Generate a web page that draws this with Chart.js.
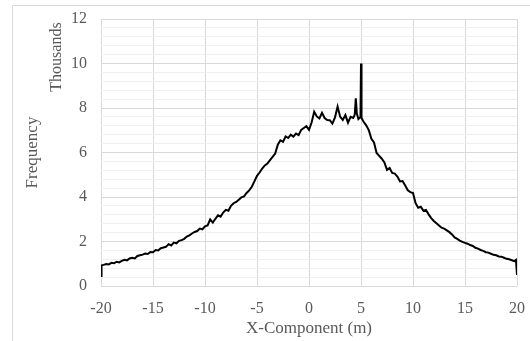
<!DOCTYPE html>
<html>
<head>
<meta charset="utf-8">
<script src="https://cdn.jsdelivr.net/npm/chart.js@4/dist/chart.umd.min.js"></script>
<style>
  html, body { margin: 0; padding: 0; background: #fff; }
  #wrap { position: relative; width: 530px; height: 341px; }
</style>
</head>
<body>
<div id="wrap"><canvas id="grafico" width="530" height="341"></canvas></div>
<script>
// distance along X (m)
const xComponent = [
  -20, -19.95, -19.75, -19.5, -19.25, -19, -18.75, -18.5, -18.25, -18,
  -17.75, -17.5, -17.25, -17, -16.75, -16.5, -16.25, -16, -15.75, -15.5,
  -15.25, -15, -14.75, -14.5, -14.25, -14, -13.75, -13.5, -13.25, -13,
  -12.75, -12.5, -12.25, -12, -11.75, -11.5, -11.25, -11, -10.75, -10.5,
  -10.25, -10, -9.75, -9.5, -9.25, -9, -8.75, -8.5, -8.25, -8,
  -7.75, -7.5, -7.25, -7, -6.75, -6.5, -6.25, -6, -5.75, -5.5,
  -5.25, -5, -4.75, -4.5, -4.25, -4, -3.75, -3.5, -3.25, -3,
  -2.75, -2.5, -2.25, -2, -1.75, -1.5, -1.25, -1, -0.75, -0.5,
  -0.25, 0, 0.25, 0.5, 0.75, 1, 1.25, 1.5, 1.75, 2,
  2.25, 2.5, 2.75, 3, 3.25, 3.5, 3.75, 4, 4.25, 4.4,
  4.5, 4.6, 4.75, 4.95, 5, 5.05, 5.25, 5.5, 5.75, 6,
  6.25, 6.5, 6.75, 7, 7.25, 7.5, 7.75, 8, 8.25, 8.5,
  8.75, 9, 9.25, 9.5, 9.75, 10, 10.25, 10.5, 10.75, 11,
  11.25, 11.5, 11.75, 12, 12.25, 12.5, 12.75, 13, 13.25, 13.5,
  13.75, 14, 14.25, 14.5, 14.75, 15, 15.25, 15.5, 15.75, 16,
  16.25, 16.5, 16.75, 17, 17.25, 17.5, 17.75, 18, 18.25, 18.5,
  18.75, 19, 19.25, 19.5, 19.75, 19.9, 20
];

// frequency, in thousands
const frequency = [
  0.45, 0.93, 0.95, 0.99, 0.97, 1.04, 1.02, 1.09, 1.06, 1.13,
  1.18, 1.15, 1.24, 1.27, 1.24, 1.35, 1.38, 1.41, 1.46, 1.44,
  1.53, 1.52, 1.62, 1.60, 1.70, 1.73, 1.76, 1.88, 1.82, 1.95,
  1.92, 2.03, 2.06, 2.12, 2.22, 2.28, 2.36, 2.43, 2.47, 2.58,
  2.55, 2.68, 2.72, 2.99, 2.85, 3.02, 3.18, 3.12, 3.30, 3.42,
  3.38, 3.60, 3.72, 3.78, 3.88, 3.98, 4.03, 4.18, 4.30, 4.46,
  4.70, 4.95, 5.10, 5.28, 5.42, 5.50, 5.66, 5.80, 5.95, 6.35,
  6.55, 6.48, 6.72, 6.65, 6.80, 6.71, 6.85, 6.78, 7.02, 7.10,
  7.18, 7.02, 7.35, 7.83, 7.62, 7.53, 7.78, 7.55, 7.46, 7.45,
  7.30, 7.58, 8.06, 7.60, 7.46, 7.68, 7.34, 7.60, 7.55, 7.70,
  8.43, 7.75, 7.50, 7.60, 10.0, 7.55, 7.38, 7.22, 7.00, 6.62,
  6.45, 5.98, 5.85, 5.72, 5.55, 5.22, 5.30, 5.08, 5.05, 4.92,
  4.70, 4.72, 4.52, 4.30, 4.22, 4.18, 3.72, 3.52, 3.56, 3.38,
  3.42, 3.22, 3.05, 2.92, 2.82, 2.72, 2.62, 2.58, 2.50, 2.42,
  2.32, 2.18, 2.12, 2.04, 1.98, 1.94, 1.90, 1.84, 1.80, 1.72,
  1.68, 1.62, 1.58, 1.52, 1.50, 1.45, 1.40, 1.38, 1.33, 1.32,
  1.27, 1.22, 1.20, 1.16, 1.12, 1.17, 0.50
];

const xTicks = [-20, -15, -10, -5, 0, 5, 10, 15, 20];
const yTicks = [0, 2, 4, 6, 8, 10, 12];

const fonte = "'Liberation Serif', 'Times New Roman', serif";
const cinza = "#595959";

// moldura externa e o rótulo "Thousands"
const extras = {
  id: "extras",
  beforeDraw(chart) {
    const c = chart.ctx;
    c.save();
    c.fillStyle = "#fff";
    c.fillRect(0, 0, chart.width, chart.height);
    c.strokeStyle = "#d9d9d9";
    c.lineWidth = 1;
    c.beginPath();
    c.moveTo(12.5, chart.height);
    c.lineTo(12.5, 5.5);
    c.lineTo(chart.width, 5.5);
    c.stroke();
    c.restore();
  },
  afterDraw(chart) {
    const c = chart.ctx;
    c.save();
    c.translate(57, 57);
    c.rotate(-Math.PI / 2);
    c.font = "16px " + fonte;
    c.fillStyle = cinza;
    c.textAlign = "center";
    c.textBaseline = "middle";
    c.fillText("Thousands", 0, 0);
    c.restore();
  }
};

new Chart(document.getElementById("grafico"), {
  type: "line",
  data: {
    datasets: [{
      label: "Frequency",
      data: xComponent.map((x, i) => ({ x: x, y: frequency[i] })),
      borderColor: "#000",
      borderWidth: 2,
      pointRadius: 0,
      tension: 0,
      fill: false
    }]
  },
  options: {
    responsive: false,
    animation: false,
    layout: { padding: { left: 0, right: 13, top: 19, bottom: 0 } },
    plugins: {
      legend: { display: false },
      tooltip: { enabled: false }
    },
    scales: {
      x: {
        type: "linear",
        min: -20,
        max: 20,
        afterBuildTicks: (s) => { s.ticks = xTicks.map(v => ({ value: v })); },
        afterFit: (s) => { s.height = 55; s.paddingLeft = 0; s.paddingRight = 0; },
        ticks: { color: cinza, font: { family: fonte, size: 16 }, padding: 13 },
        grid: { color: "#d9d9d9", drawTicks: false },
        border: { display: false },
        title: {
          display: true,
          text: "X-Component (m)",
          color: cinza,
          font: { family: fonte, size: 17 },
          padding: { top: 0, bottom: 2 }
        }
      },
      y: {
        min: 0,
        max: 12,
        afterBuildTicks: (s) => {
          const t = [];
          for (let k = 0; k <= 30; k++) t.push({ value: k * 0.4 });
          s.ticks = t;
        },
        afterFit: (s) => { s.width = 101; s.paddingTop = 0; s.paddingBottom = 0; },
        ticks: {
          autoSkip: false,
          color: cinza,
          font: { family: fonte, size: 16 },
          padding: 14,
          callback: (v) => {
            const r = Math.round(v);
            return (Math.abs(v - r) < 1e-6 && yTicks.includes(r)) ? String(r) : "";
          }
        },
        grid: {
          drawTicks: false,
          color: (ctx) => {
            const v = ctx.tick.value;
            const r = Math.round(v);
            return (Math.abs(v - r) < 1e-6 && yTicks.includes(r)) ? "#d9d9d9" : "#efefef";
          }
        },
        border: { display: false },
        title: {
          display: true,
          text: "Frequency",
          color: cinza,
          font: { family: fonte, size: 17 },
          padding: { top: 22, bottom: 0 }
        }
      }
    }
  },
  plugins: [extras]
});
</script>
</body>
</html>
